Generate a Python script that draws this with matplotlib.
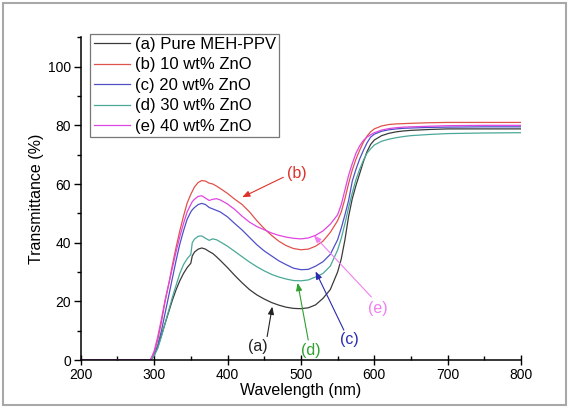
import matplotlib
matplotlib.use("Agg")
import matplotlib.pyplot as plt
from matplotlib.patches import Rectangle

plt.rcParams['font.family'] = ['Liberation Sans', 'DejaVu Sans']

wavelength = [200, 290, 295, 300, 305, 310, 315, 320, 325, 330,
              335, 340, 345, 350, 352, 355, 360, 365, 370, 375,
              380, 385, 390, 400, 410, 420, 430, 440, 450, 460,
              470, 480, 490, 500, 510, 520, 530, 540, 550, 555,
              560, 565, 570, 575, 580, 585, 590, 595, 600, 610,
              620, 630, 640, 650, 675, 700, 750, 800]

t_a = [0, 0, 0, 1.5, 4.5, 8.5, 12.5, 16.5, 20.5, 24,
       27, 29.5, 31.5, 33, 35.5, 36.8, 37.8, 38.2, 37.8, 37,
       36.3, 35.2, 34, 31.5, 28.8, 26.3, 24, 22.2, 20.8, 19.6,
       18.7, 18, 17.6, 17.5, 17.8, 18.8, 21, 24, 30, 34.5,
       41, 49, 55, 59.5, 63.5, 67.5, 71, 73.5, 75, 76.5,
       77.3, 77.8, 78.1, 78.3, 78.6, 78.8, 78.8, 78.8]

t_b = [0, 0, 0, 2.5, 7, 13, 20, 26, 32.5, 38.5,
       44, 49, 53.5, 56.5, 57.5, 59, 60.5, 61.2, 61, 60.3,
       60, 59.3, 58.5, 56.8, 54.8, 53, 50.5, 47.5, 44.8, 42.5,
       40.5, 39, 38, 37.6, 37.8, 38.8, 40.5, 43.5, 47.5, 50.5,
       55, 60.2, 64.8, 68.5, 71.5, 74.2, 76.3, 77.8, 78.8, 79.8,
       80.3, 80.5, 80.6, 80.7, 80.9, 81, 81, 81]

t_c = [0, 0, 0, 1.5, 5, 10, 16, 22, 28, 34,
       39.5, 44, 48, 50.5, 51.2, 52, 53, 53.4, 53, 52,
       51.5, 51, 50.5, 48.8, 46.5, 44.3, 41.8, 39.3, 37.2, 35.5,
       33.8, 32.5, 31.3, 30.8, 30.9, 32, 33.5, 36, 41, 45,
       49.5, 54.4, 61, 65, 68.5, 71.4, 74, 76, 77, 78,
       78.5, 78.8, 79, 79.1, 79.3, 79.4, 79.5, 79.5]

t_d = [0, 0, 0, 1.5, 4, 8, 12.5, 17, 21.5, 25.5,
       29.5, 32.5, 34.5, 36, 40, 41.2, 42.2, 42.3, 41.5, 40.8,
       41.3, 41, 40.3, 38.8, 37, 35.2, 33.4, 31.8, 30.4, 29.2,
       28.3, 27.6, 27.1, 27, 27.3, 28.3, 29.5, 32, 37.5, 41.5,
       46.5, 52, 57, 61.5, 65, 68, 70.5, 72, 73.3, 74.6,
       75.3, 75.8, 76.2, 76.5, 76.9, 77.2, 77.4, 77.5]

t_e = [0, 0, 0, 3, 8, 14, 20.5, 26, 31.5, 37,
       42, 46.5, 50.5, 53, 54, 54.8, 55.8, 56, 55.2, 54.4,
       54.8, 55, 54.6, 53.2, 51.3, 49, 47, 45.5, 44.4, 43.3,
       42.5, 41.9, 41.5, 41.3, 41.6, 42.5, 44, 46.3, 49.5, 53,
       58, 63, 67, 70.5, 73, 74.8, 76, 76.8, 77.5, 78.4,
       78.9, 79.2, 79.4, 79.5, 79.7, 79.9, 80, 80]

labels = ['(a) Pure MEH-PPV', '(b) 10 wt% ZnO', '(c) 20 wt% ZnO',
          '(d) 30 wt% ZnO', '(e) 40 wt% ZnO']
line_colors = ['#3a3a3a', '#e0524c', '#5050c8', '#4aa898', '#e046e0']
series = [t_a, t_b, t_c, t_d, t_e]

# annotations: label, text position, arrow tail, arrow head, color
ann_text = ['(a)', '(b)', '(c)', '(d)', '(e)']
ann_text_xy = [(441, 4.5), (494, 63.6), (566, 7.0), (514, 3.4), (605, 17.7)]
ann_tail = [(454, 8.0), (476, 62.3), (558.5, 10.2), (510, 6.8), (596, 21.5)]
ann_head = [(461, 18.2), (420, 55.5), (520, 30.2), (495.6, 26.3), (517.5, 42.5)]
ann_colors = ['#222222', '#e0302a', '#2a2ab0', '#30a030', '#f080f0']

fig = plt.figure(figsize=(5.7, 4.08), dpi=100)
ax = fig.add_axes([0.1416, 0.1176, 0.7726, 0.7908])

for y, c, lab in zip(series, line_colors, labels):
    ax.plot(wavelength, y, color=c, lw=0.9, label=lab)

for t, txy, tail, head, c in zip(ann_text, ann_text_xy, ann_tail, ann_head, ann_colors):
    ax.text(txy[0], txy[1], t, color=c, fontsize=11.5, ha='center', va='center')
    ax.annotate('', xy=head, xytext=tail,
                arrowprops=dict(arrowstyle='-|>,head_length=0.45,head_width=0.18',
                                color=c, lw=0.8, shrinkA=0, shrinkB=0))

ax.set_xlim(200, 800)
ax.set_ylim(0, 110)
ax.set_xticks([200, 300, 400, 500, 600, 700, 800])
ax.set_xticks(range(250, 800, 100), minor=True)
ax.set_yticks([0, 20, 40, 60, 80, 100])
ax.set_yticks([10, 30, 50, 70, 90, 110], minor=True)
ax.spines['top'].set_visible(False)
ax.spines['right'].set_visible(False)
for s in ['left', 'bottom']:
    ax.spines[s].set_linewidth(1.1)
ax.tick_params(axis='y', which='major', direction='out', length=5, width=1, labelsize=10, pad=2)
ax.tick_params(axis='y', which='minor', direction='out', length=3, width=1)
ax.tick_params(axis='x', which='major', direction='inout', length=7, width=1, labelsize=10, pad=2)
ax.tick_params(axis='x', which='minor', direction='in', length=3, width=1)

ax.set_xlabel('Wavelength (nm)', fontsize=11.5, labelpad=1)
ax.set_ylabel('Transmittance (%)', fontsize=11.5, labelpad=3)

leg = ax.legend(loc='upper left', bbox_to_anchor=(0.022, 1.012), fontsize=12,
                frameon=True, fancybox=False, edgecolor='#555555',
                handlelength=2.2, handletextpad=0.25, labelspacing=0.33,
                borderpad=0.2, borderaxespad=0)
leg.get_frame().set_linewidth(0.9)

fig.patches.append(Rectangle((3 / 570, 3 / 408), 563 / 570, 402 / 408,
                             transform=fig.transFigure, fill=False,
                             edgecolor='#a8a8a8', lw=1.5))

fig.savefig('out.png', dpi=100)
